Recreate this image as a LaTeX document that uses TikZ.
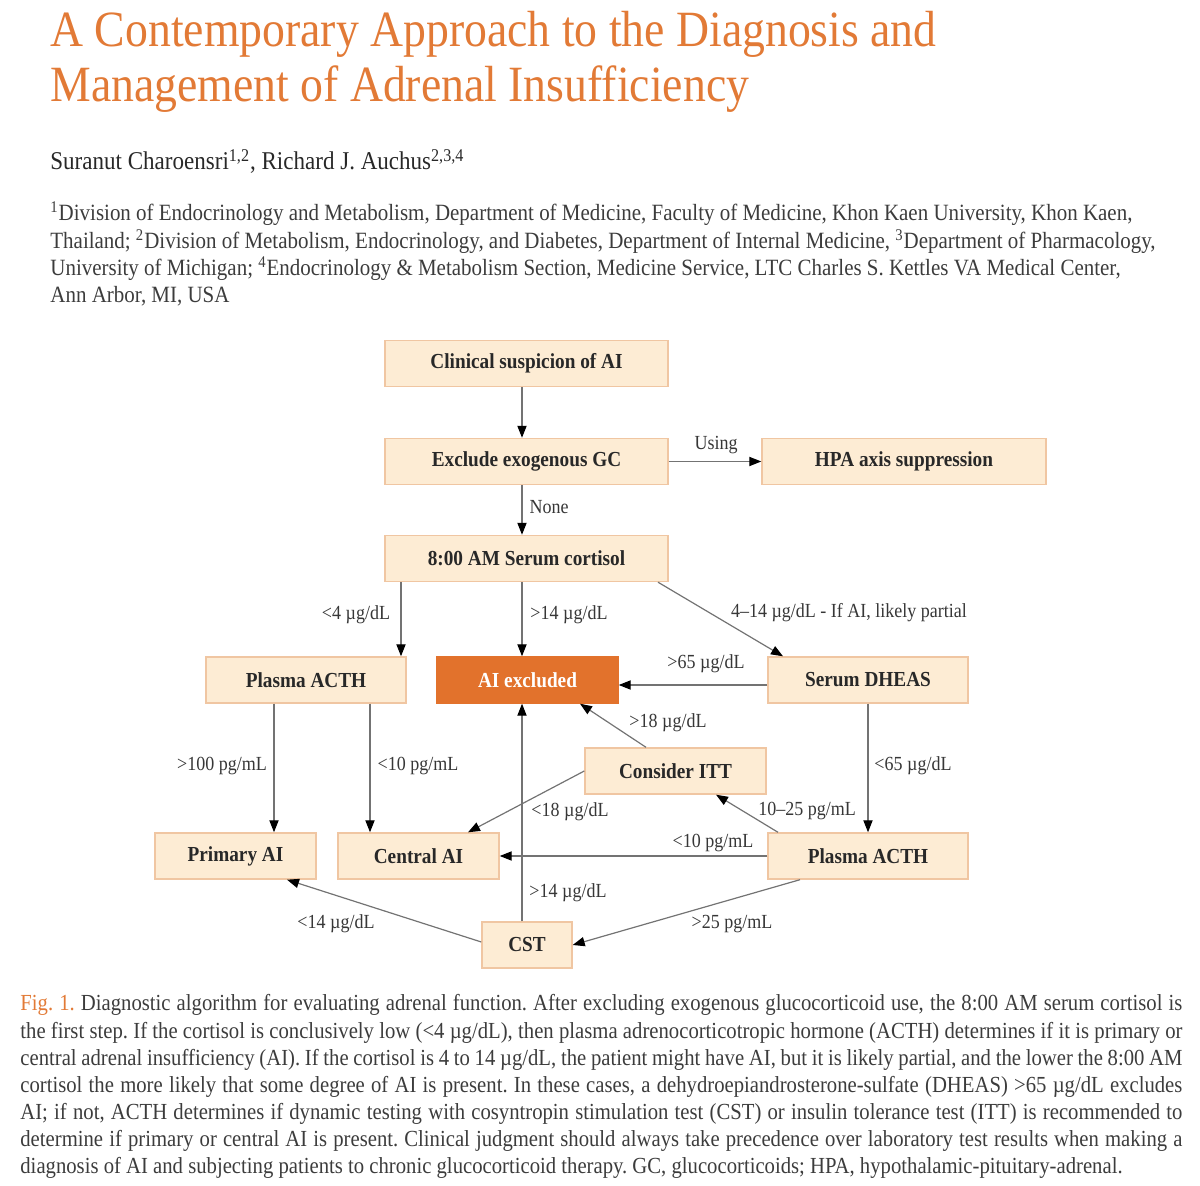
\documentclass[tikz,border=0pt]{standalone}
\usepackage{fontspec}
\setmainfont[FakeStretch=0.9]{Liberation Serif}
\usetikzlibrary{arrows.meta,calc}
\definecolor{ttl}{RGB}{226,122,54}
\definecolor{boxfill}{RGB}{253,236,212}
\definecolor{boxline}{RGB}{240,198,162}
\definecolor{aiexc}{RGB}{226,114,44}
\definecolor{lblc}{RGB}{55,55,55}
\definecolor{linec}{RGB}{115,115,115}
\definecolor{txtc}{RGB}{40,40,40}
\definecolor{capc}{RGB}{60,60,60}
\frenchspacing
\begin{document}
\begin{tikzpicture}[x=0.5pt,y=-0.5pt,
 bx/.style={draw=boxline, line width=0.7pt, fill=boxfill, minimum height=23pt, inner sep=0pt, font=\fontsize{10.7}{12}\selectfont\bfseries, text=txtc},
 arr/.style={draw=linec, line width=0.6pt, -{Triangle[length=6pt,width=4.6pt,color=black]}},
 lbl/.style={font=\fontsize{10}{12}\selectfont, text=lblc, inner sep=0pt},
 ttlstyle/.style={anchor=base west, inner sep=0pt, font=\fontsize{25.4}{30}\selectfont, text=ttl},
 afstyle/.style={anchor=base west, inner sep=0pt, font=\fontsize{11.65}{13}\selectfont, text=capc},
 capstyle/.style={anchor=base west, inner sep=0pt, font=\fontsize{11.5}{13}\selectfont, text=capc},
]
\useasboundingbox (0,0) rectangle (1200,1186);

% title and header
\node[ttlstyle] (t1) at (50,47) {A Contemporary Approach to the Diagnosis and};
\node[ttlstyle] (t2) at (50,102) {Management of Adrenal Insufficiency};
\node[anchor=base west, inner sep=0pt, font=\fontsize{12.8}{15}\selectfont, text=txtc] (au) at (50,170) {Suranut Charoensri\textsuperscript{1,2}, Richard J. Auchus\textsuperscript{2,3,4}};
\node[afstyle] (af1) at (50,221) {\textsuperscript{1}Division of Endocrinology and Metabolism, Department of Medicine, Faculty of Medicine, Khon Kaen University, Khon Kaen,};
\node[afstyle] (af2) at (50,249) {Thailand; \textsuperscript{2}Division of Metabolism, Endocrinology, and Diabetes, Department of Internal Medicine, \textsuperscript{3}Department of Pharmacology,};
\node[afstyle] (af3) at (50,276) {University of Michigan; \textsuperscript{4}Endocrinology \& Metabolism Section, Medicine Service, LTC Charles S. Kettles VA Medical Center,};
\node[afstyle] (af4) at (50,303) {Ann Arbor, MI, USA};

% boxes
\node[bx, minimum width=141.5pt] (clin) at (526.5,363.5) {Clinical suspicion of AI};
\node[bx, minimum width=141.5pt] (excl) at (526.5,461.5) {Exclude exogenous GC};
\node[bx, minimum width=142pt] (hpa) at (904,461.5) {HPA axis suppression};
\node[bx, minimum width=141.5pt] (cort) at (526.5,558.5) {8:00 AM Serum cortisol};
\node[bx, minimum width=100pt] (pa1) at (306,680) {Plasma ACTH};
\node[bx, minimum width=90.5pt, fill=aiexc, draw=aiexc, text=white] (aiex) at (527.5,680) {AI excluded};
\node[bx, minimum width=100pt] (dheas) at (868,680) {Serum DHEAS};
\node[bx, minimum width=90.5pt] (itt) at (675.5,771) {Consider ITT};
\node[bx, minimum width=80.5pt] (prim) at (235.5,856) {Primary AI};
\node[bx, minimum width=80.5pt] (cent) at (418.5,856) {Central AI};
\node[bx, minimum width=100pt] (pa2) at (868,856) {Plasma ACTH};
\node[bx, minimum width=45pt] (cst) at (527,945) {CST};

% connectors
\draw[arr] (clin.south -| 522,0) -- (excl.north -| 522,0);
\draw[arr] (excl.east) -- (hpa.west);
\draw[arr] (excl.south -| 522,0) -- (cort.north -| 522,0);
\draw[arr] (cort.south -| 401,0) -- (pa1.north -| 401,0);
\draw[arr] (cort.south -| 522,0) -- (aiex.north -| 522,0);
\draw[arr] (cort.south -| 658,0) -- (dheas.north -| 783,0);
\draw[arr] (dheas.west |- 0,685) -- (aiex.east |- 0,685);
\draw[arr] (itt.north -| 646,0) -- (aiex.south -| 580,0);
\draw[arr] (pa1.south -| 274,0) -- (prim.north -| 274,0);
\draw[arr] (pa1.south -| 370,0) -- (cent.north -| 370,0);
\draw[arr] (itt.west) -- (cent.north -| 468,0);
\draw[arr] (cst.north -| 522,0) -- (aiex.south -| 522,0);
\draw[arr] (dheas.south) -- (pa2.north);
\draw[arr] (pa2.north -| 778,0) -- (itt.south -| 716,0);
\draw[arr] (pa2.west) -- (cent.east);
\draw[arr] (pa2.south -| 800,0) -- (cst.east);
\draw[arr] (cst.west |- 0,942) -- (prim.south -| 287,0);

% labels
\node[lbl] (lusing) at (716,445) {Using};
\node[lbl] (lnone) at (549,507) {None};
\node[lbl] (l4) at (356,615) {<4 µg/dL};
\node[lbl] (l14a) at (569,615) {>14 µg/dL};
\node[lbl] (lpart) at (849,613) {4–14 µg/dL - If AI, likely partial};
\node[lbl] (l65a) at (706,664) {>65 µg/dL};
\node[lbl] (l18a) at (668,723) {>18 µg/dL};
\node[lbl] (l100) at (222,766) {>100 pg/mL};
\node[lbl] (l10a) at (418,766) {<10 pg/mL};
\node[lbl] (l18b) at (570,812) {<18 µg/dL};
\node[lbl] (l65b) at (913,766) {<65 µg/dL};
\node[lbl] (l1025) at (807,811) {10–25 pg/mL};
\node[lbl] (l10b) at (713,843) {<10 pg/mL};
\node[lbl] (l14b) at (568,893) {>14 µg/dL};
\node[lbl] (l14c) at (336,924) {<14 µg/dL};
\node[lbl] (l25) at (732,924) {>25 pg/mL};

% caption
\node[capstyle] (c1) at (20,1010) {\makebox[581pt][s]{\textcolor{ttl}{Fig. 1.} Diagnostic algorithm for evaluating adrenal function. After excluding exogenous glucocorticoid use, the 8:00 AM serum cortisol is}};
\node[capstyle] (c2) at (20,1038) {\makebox[581pt][s]{the first step. If the cortisol is conclusively low (<4 µg/dL), then plasma adrenocorticotropic hormone (ACTH) determines if it is primary or}};
\node[capstyle] (c3) at (20,1065) {\makebox[581pt][s]{central adrenal insufficiency (AI). If the cortisol is 4 to 14 µg/dL, the patient might have AI, but it is likely partial, and the lower the 8:00 AM}};
\node[capstyle] (c4) at (20,1092) {\makebox[581pt][s]{cortisol the more likely that some degree of AI is present. In these cases, a dehydroepiandrosterone-sulfate (DHEAS) >65 µg/dL excludes}};
\node[capstyle] (c5) at (20,1119) {\makebox[581pt][s]{AI; if not, ACTH determines if dynamic testing with cosyntropin stimulation test (CST) or insulin tolerance test (ITT) is recommended to}};
\node[capstyle] (c6) at (20,1146) {\makebox[581pt][s]{determine if primary or central AI is present. Clinical judgment should always take precedence over laboratory test results when making a}};
\node[capstyle] (c7) at (20,1173) {diagnosis of AI and subjecting patients to chronic glucocorticoid therapy. GC, glucocorticoids; HPA, hypothalamic-pituitary-adrenal.};
\end{tikzpicture}
\end{document}
